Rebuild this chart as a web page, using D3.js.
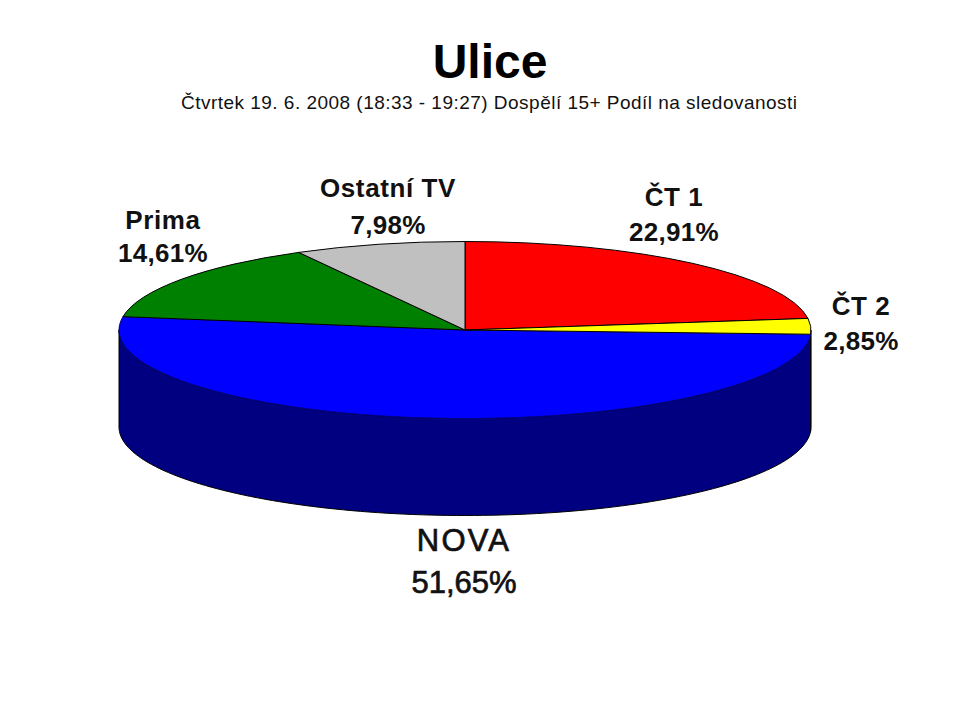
<!DOCTYPE html>
<html>
<head>
<meta charset="utf-8">
<script src="https://cdn.jsdelivr.net/npm/d3@7"></script>
<style>
  html, body { margin: 0; background: #fff; }
  text { font-family: "Liberation Sans", Arial, sans-serif; fill: #111; }
</style>
</head>
<body>
<div id="chart"></div>
<script>
var channels = ["ČT 1", "ČT 2", "NOVA", "Prima", "Ostatní TV"];
var shares = [22.91, 2.85, 51.65, 14.61, 7.98];
var shareLabels = ["22,91%", "2,85%", "51,65%", "14,61%", "7,98%"];
var topColors = ["#ff0000", "#ffff00", "#0000ff", "#008000", "#c0c0c0"];
var wallColors = ["#800000", "#808000", "#000080", "#004000", "#606060"];
var rimColors = ["#000", "#000", "#000080", "#000", "#000"];

var width = 959, height = 703;
var cx = 465, cy = 330, rx = 346, ry = 88.5, depth = 97;

// where each label sits: centre x, first baseline, second baseline, size, bold, stroke, letter spacing
var labelPlace = [
  {x: 674, y1: 206, y2: 241, size: 26, weight: "bold", stroke: 0, spacing: 0.6, valueSpacing: 0.3},
  {x: 861, y1: 315, y2: 350, size: 26, weight: "bold", stroke: 0, spacing: 0.6, valueSpacing: 0.3},
  {x: 464, y1: 551, y2: 593, size: 31, weight: "normal", stroke: 0.7, spacing: 2.2, valueSpacing: 0},
  {x: 163, y1: 229, y2: 262, size: 26, weight: "bold", stroke: 0, spacing: 0.6, valueSpacing: 0.3},
  {x: 388, y1: 197, y2: 234, size: 26, weight: "bold", stroke: 0, spacing: 0.6, valueSpacing: 0.3}
];

var svg = d3.select("#chart")
  .append("svg")
    .attr("width", width)
    .attr("height", height)
    .style("display", "block");

svg.append("text")
  .attr("x", 490).attr("y", 78)
  .attr("text-anchor", "middle")
  .style("font-size", "48px")
  .style("font-weight", "bold")
  .style("fill", "#000")
  .text("Ulice");

svg.append("text")
  .attr("x", 489).attr("y", 109)
  .attr("text-anchor", "middle")
  .attr("textLength", 616)
  .style("font-size", "19px")
  .text("Čtvrtek 19. 6. 2008 (18:33 - 19:27) Dospělí 15+ Podíl na sledovanosti");

var pie = d3.pie().sort(null);
var slices = pie(shares);

// Side wall: only the part of the rim facing the viewer
var wallArea = d3.area()
  .x(function(a) { return cx + rx * Math.sin(a); })
  .y0(function(a) { return cy - ry * Math.cos(a); })
  .y1(function(a) { return cy - ry * Math.cos(a) + depth; });

svg.append("g").selectAll("path")
  .data(slices)
  .enter()
  .append("path")
    .attr("d", function(d) {
      var a0 = Math.max(d.startAngle, Math.PI / 2);
      var a1 = Math.min(d.endAngle, Math.PI * 3 / 2);
      if (a1 <= a0) return null;
      return wallArea(d3.range(0, 121).map(function(i) { return a0 + (a1 - a0) * i / 120; }));
    })
    .attr("fill", function(d, i) { return wallColors[i]; })
    .attr("stroke", "#000")
    .attr("stroke-width", 1);

// Top face: a flat pie squashed into the ellipse
var arc = d3.arc().innerRadius(0).outerRadius(rx);

var topFace = svg.append("g")
  .attr("transform", "translate(" + cx + "," + cy + ") scale(1," + (ry / rx) + ")");

topFace.selectAll("path")
  .data(slices)
  .enter()
  .append("path")
    .attr("d", arc)
    .attr("fill", function(d, i) { return topColors[i]; })
    .attr("stroke", function(d, i) { return rimColors[i]; })
    .attr("stroke-width", 1)
    .attr("vector-effect", "non-scaling-stroke");

// NOVA goes under its neighbours so their black edges stay visible
topFace.selectAll("path").filter(function(d, i) { return i === 2; }).lower();

var labels = svg.append("g").selectAll("g")
  .data(channels)
  .enter()
  .append("g")
    .attr("text-anchor", "middle")
    .style("font-size", function(d, i) { return labelPlace[i].size + "px"; })
    .style("font-weight", function(d, i) { return labelPlace[i].weight; })
    .style("stroke", "#111")
    .style("stroke-width", function(d, i) { return labelPlace[i].stroke; });

labels.append("text")
  .attr("x", function(d, i) { return labelPlace[i].x; })
  .attr("y", function(d, i) { return labelPlace[i].y1; })
  .style("letter-spacing", function(d, i) { return labelPlace[i].spacing + "px"; })
  .text(function(d) { return d; });

labels.append("text")
  .attr("x", function(d, i) { return labelPlace[i].x; })
  .attr("y", function(d, i) { return labelPlace[i].y2; })
  .style("letter-spacing", function(d, i) { return labelPlace[i].valueSpacing + "px"; })
  .text(function(d, i) { return shareLabels[i]; });
</script>
</body>
</html>
